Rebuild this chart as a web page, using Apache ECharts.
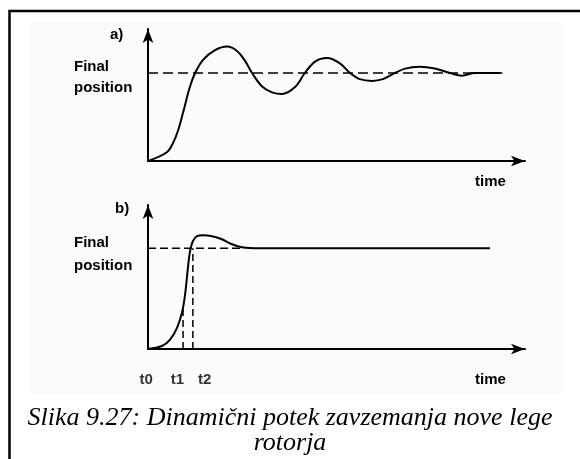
<!DOCTYPE html>
<html>
<head>
<meta charset="utf-8">
<script src="https://cdn.jsdelivr.net/npm/echarts@6/dist/echarts.min.js"></script>
<style>
  html, body { margin: 0; padding: 0; background: #fff; }
  #main { width: 580px; height: 459px; }
</style>
</head>
<body>
<div id="main"></div>
<script>
// a) oscilirajoci odziv  [cas, pozicija], koncna pozicija = 1
var timeA = [0, 0.50, 0.66, 0.80, 0.93, 1.11, 1.25, 1.46, 1.78, 2.10, 2.36, 2.57, 2.76, 3.02, 3.29, 3.55, 3.90, 4.16, 4.43, 4.75, 5.09, 5.36, 5.62, 5.94, 6.23, 6.50, 6.82, 7.21, 7.61, 8.01, 8.33, 8.67, 9.34];
var posA  = [0, 0.10, 0.20, 0.35, 0.55, 0.84, 1.00, 1.15, 1.26, 1.30, 1.25, 1.14, 1.00, 0.85, 0.78, 0.76, 0.84, 1.00, 1.13, 1.17, 1.11, 1.00, 0.93, 0.91, 0.93, 0.99, 1.05, 1.07, 1.05, 1.00, 0.97, 1.00, 1.00];

// b) hitri odziv
var timeB = [0, 0.37, 0.58, 0.77, 0.90, 0.98, 1.06, 1.11, 1.19, 1.30, 1.46, 1.70, 1.96, 2.23, 2.49, 2.97, 9.07];
var posB  = [0, 0.03, 0.09, 0.21, 0.36, 0.53, 0.81, 0.96, 1.07, 1.12, 1.13, 1.12, 1.09, 1.04, 1.01, 1.00, 1.00];

var finalPos = 1;
var finalEndA = 9.4;
var finalEndB = 2.5;

// oznake t0, t1, t2 na casovni osi b)
var tickNames  = ['t0', 't1', 't2'];
var tickTimes  = [-0.05, 0.78, 1.50];
var markTimes  = [0.93, 1.19];   // navpicne crte pri t1 in t2
var markHeight = [0.40, 1.00];

var chart = echarts.init(document.getElementById('main'));

function pairs(xs, ys) {
    var out = [];
    for (var i = 0; i < xs.length; i++) {
        out.push([xs[i], ys[i]]);
    }
    return out;
}

function axisX(idx) {
    return {
        type: 'value', gridIndex: idx, min: 0, max: 10,
        axisLine: { lineStyle: { color: '#000', width: 2 }, symbol: ['none', 'arrow'], symbolSize: [8, 14] },
        axisTick: { show: false }, axisLabel: { show: false }, splitLine: { show: false }
    };
}
function axisY(idx, top) {
    return {
        type: 'value', gridIndex: idx, min: 0, max: top,
        axisLine: { lineStyle: { color: '#000', width: 2 }, symbol: ['none', 'arrow'], symbolSize: [8, 14] },
        axisTick: { show: false }, axisLabel: { show: false }, splitLine: { show: false }
    };
}

var bold = { fontFamily: 'Liberation Sans', fontWeight: 'bold', fontSize: 15, fill: '#000' };
function label(txt, x, y, align) {
    return {
        type: 'text', left: x, top: y,
        style: Object.assign({ text: txt, textAlign: align || 'left' }, bold)
    };
}

var series = [
    { type: 'line', xAxisIndex: 0, yAxisIndex: 0, data: [[0, finalPos], [finalEndA, finalPos]],
      symbol: 'none', silent: true, lineStyle: { color: '#000', width: 1.5, type: [10, 5] } },
    { type: 'line', xAxisIndex: 0, yAxisIndex: 0, data: pairs(timeA, posA),
      symbol: 'none', smooth: 0.35, lineStyle: { color: '#000', width: 2 } },
    { type: 'line', xAxisIndex: 1, yAxisIndex: 1, data: [[0, finalPos], [finalEndB, finalPos]],
      symbol: 'none', silent: true, lineStyle: { color: '#000', width: 1.5, type: [8, 4] } },
    { type: 'line', xAxisIndex: 1, yAxisIndex: 1, data: pairs(timeB, posB),
      symbol: 'none', smooth: 0.35, lineStyle: { color: '#000', width: 2 } }
];
for (var i = 0; i < markTimes.length; i++) {
    series.push({
        type: 'line', xAxisIndex: 1, yAxisIndex: 1,
        data: [[markTimes[i], 0], [markTimes[i], markHeight[i]]],
        symbol: 'none', silent: true, lineStyle: { color: '#000', width: 1.5, type: [7, 4] }
    });
}
series.push({
    type: 'scatter', xAxisIndex: 1, yAxisIndex: 1, clip: false, symbolSize: 0,
    data: tickTimes.map(function (t, k) { return { value: [t, -0.31], name: tickNames[k] }; }),
    label: { show: true, position: 'inside', formatter: '{b}', color: '#000',
             fontFamily: 'Liberation Sans', fontWeight: 'bold', fontSize: 15 }
});

chart.setOption({
    animation: false,
    backgroundColor: '#fff',
    grid: [
        { left: 148, top: 29, width: 377, height: 132 },
        { left: 148, top: 205, width: 377, height: 144 }
    ],
    xAxis: [axisX(0), axisX(1)],
    yAxis: [axisY(0, 1.5), axisY(1, 1.43)],
    series: series,
    graphic: [
        { type: 'rect', z: -10, shape: { x: 30, y: 22, width: 533, height: 372 }, style: { fill: '#fbfbfb' } },
        { type: 'polyline', shape: { points: [[9.5, 459], [9.5, 11], [580, 11]] }, style: { stroke: '#000', lineWidth: 2.5, fill: null } },
        label('a)', 110, 27),
        label('Final', 74, 59),
        label('position', 74, 80),
        label('time', 475, 174),
        label('b)', 115, 201),
        label('Final', 74, 235),
        label('position', 74, 258),
        label('time', 475, 372),
        { type: 'text', left: 'center', top: 405,
          style: { text: 'Slika 9.27: Dinamični potek zavzemanja nove lege\nrotorja', textAlign: 'center',
                   fontFamily: 'Liberation Serif', fontStyle: 'italic', fontSize: 26, lineHeight: 25, fill: '#000' } }
    ]
});
</script>
</body>
</html>
